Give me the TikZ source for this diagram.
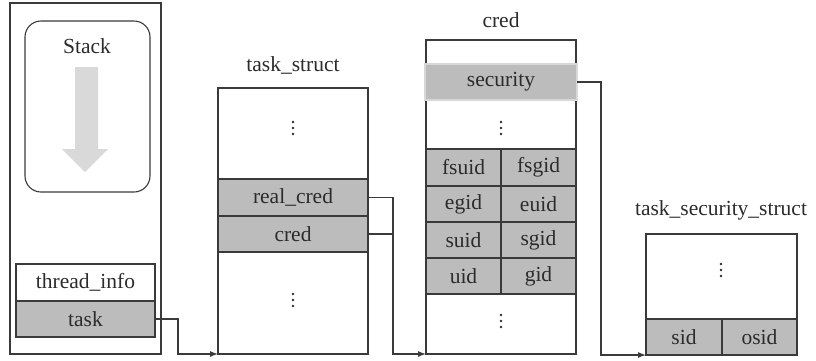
\documentclass[tikz,border=0pt]{standalone}
\usepackage{fontspec}
\setmainfont{Liberation Serif}
\usetikzlibrary{arrows.meta,calc}
\definecolor{linec}{HTML}{3A3A3A}
\definecolor{cellgray}{HTML}{BCBCBC}
\definecolor{txt}{HTML}{2B2B2B}
\definecolor{arrgray}{HTML}{D9D9D9}
\definecolor{lightedge}{HTML}{D8D8D8}
\tikzset{
  box/.style={draw=linec, line width=1.1pt, anchor=north west, inner sep=0pt, outer sep=0pt, text=txt, font=\fontsize{21.5}{25}\selectfont},
  cell/.style={box, fill=cellgray},
  lbl/.style={text=txt, font=\fontsize{21.5}{25}\selectfont, inner sep=0pt},
  conn/.style={draw=linec, line width=1.1pt},
  arr/.style={conn, -{Latex[length=8pt,width=6pt]}},
  vdot/.style={fill=txt, draw=none}
}
\newcommand{\mydots}[2]{\fill[vdot] (#1,#2-6) circle (1.3pt) (#1,#2) circle (1.3pt) (#1,#2+6) circle (1.3pt);}
\begin{document}
\begin{tikzpicture}[x=1pt,y=-1pt]
\useasboundingbox (0,0) rectangle (816,360);
% left stack area
\node[box, minimum width=151pt, minimum height=351pt] (outer) at (10,3) {};
\node[box, rounded corners=16pt, minimum width=125pt, minimum height=171pt] (stackbox) at (25,21) {};
\node[lbl] (stacklbl) at (87,46) {Stack};
\fill[arrgray] (75,67) -- (98,67) -- (98,149) -- (108,149) -- (85,172) -- (62,149) -- (75,149) -- cycle;
\node[box, minimum width=139pt, minimum height=37pt] (tinfo) at (16,264) {thread\_info};
\node[cell, minimum width=139pt, minimum height=36pt] (task) at (16,301) {task};
% task_struct
\node[lbl] (tslbl) at (293,65) {task\_struct};
\node[box, minimum width=150pt, minimum height=266pt] (ts) at (218,88) {};
\mydots{293}{128}
\node[cell, minimum width=150pt, minimum height=37pt] (realcred) at (218,179) {real\_cred};
\node[cell, minimum width=150pt, minimum height=36pt] (cred) at (218,216) {cred};
\mydots{293}{300}
% cred
\node[lbl] (credlbl) at (501,20) {cred};
\node[box, minimum width=150pt, minimum height=314pt] (credbox) at (426,40) {};
\node[box, fill=cellgray, draw=lightedge, minimum width=152pt, minimum height=36pt] (security) at (425,64) {security};
\mydots{501}{128}
\node[cell, minimum width=75pt, minimum height=37pt] (fsuid) at (426,149) {fsuid};
\node[cell, minimum width=75pt, minimum height=37pt] (fsgid) at (501,149) {fsgid};
\node[cell, minimum width=75pt, minimum height=36pt] (egid) at (426,186) {egid};
\node[cell, minimum width=75pt, minimum height=36pt] (euid) at (501,186) {euid};
\node[cell, minimum width=75pt, minimum height=36pt] (suid) at (426,222) {suid};
\node[cell, minimum width=75pt, minimum height=36pt] (sgid) at (501,222) {sgid};
\node[cell, minimum width=75pt, minimum height=36pt] (uid) at (426,258) {uid};
\node[cell, minimum width=75pt, minimum height=36pt] (gid) at (501,258) {gid};
\mydots{501}{321}
% task_security_struct
\node[lbl] (tsslbl) at (721,210) {task\_security\_struct};
\node[box, minimum width=151pt, minimum height=121pt] (tss) at (646,234) {};
\mydots{721}{270}
\node[cell, minimum width=76pt, minimum height=36pt] (sid) at (646,319) {sid};
\node[cell, minimum width=75pt, minimum height=36pt] (osid) at (722,319) {osid};
% connectors
\draw[arr] (task.east) -- ++(23,0) |- (ts.south west);
\draw[arr] (realcred.east) -- ++(25,0) |- (credbox.south west);
\draw[conn] (cred.east) -- ++(25,0);
\draw[arr] (security.east) -- ++(24,0) |- (tss.south west);
\end{tikzpicture}
\end{document}
